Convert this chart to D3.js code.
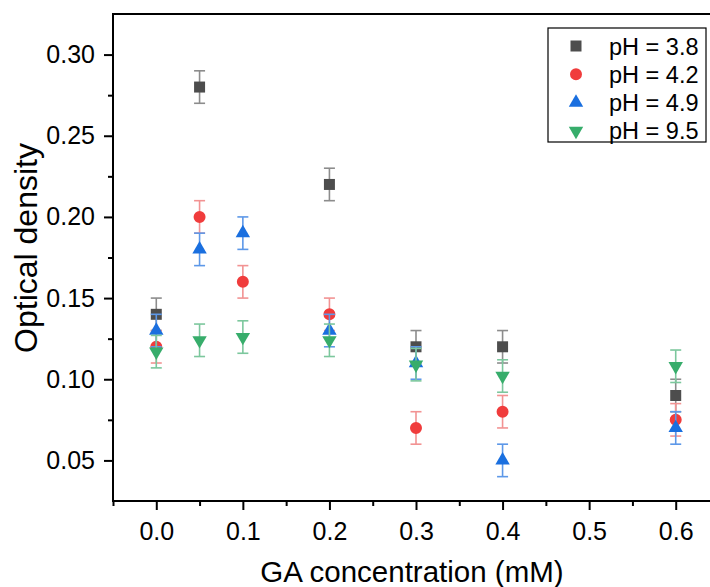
<!DOCTYPE html>
<html lang="en">
<head>
<meta charset="UTF-8">
<title>Optical density vs GA concentration</title>
<script src="https://cdn.jsdelivr.net/npm/d3@7"></script>
<style>
  body { margin: 0; background: #fff; }
  svg { display: block; font-family: "Liberation Sans", Arial, sans-serif; }
</style>
</head>
<body>
<script>
// data
var concentrations = [0.0, 0.05, 0.1, 0.2, 0.3, 0.4, 0.6];
var seriesNames = ["pH = 3.8", "pH = 4.2", "pH = 4.9", "pH = 9.5"];
// null = no point at that concentration
var ph38 = [0.14, 0.28, null, 0.22, 0.12, 0.12, 0.09];
var ph42 = [0.12, 0.20, 0.16, 0.14, 0.07, 0.08, 0.075];
var ph49 = [0.13, 0.18, 0.19, 0.13, 0.11, 0.05, 0.07];
var ph95 = [0.117, 0.124, 0.126, 0.124, 0.109, 0.102, 0.108];
var err38 = [0.01, 0.01, null, 0.01, 0.01, 0.01, 0.01];
var err42 = [0.01, 0.01, 0.01, 0.01, 0.01, 0.01, 0.01];
var err49 = [0.01, 0.01, 0.01, 0.01, 0.01, 0.01, 0.01];
var err95 = [0.01, 0.01, 0.01, 0.01, 0.01, 0.01, 0.01];
var xTicks = [0.0, 0.1, 0.2, 0.3, 0.4, 0.5, 0.6];
var yTicks = [0.05, 0.10, 0.15, 0.20, 0.25, 0.30];

var w = 710, h = 587;

var x = d3.scaleLinear().domain([-0.05, 0.65]).range([113, 719]);
var y = d3.scaleLinear().domain([0.025, 0.325]).range([501, 14]);

var svg = d3.select("body").append("svg")
    .attr("width", w)
    .attr("height", h);

// series look
var styles = [
    { fill: "#4d4d4d", bar: "#8c8c8c", shape: d3.symbolSquare, size: 121, rot: 0 },
    { fill: "#f03c3c", bar: "#f29393", shape: d3.symbolCircle, size: 113, rot: 0 },
    { fill: "#1a6fdf", bar: "#5d98e8", shape: d3.symbolTriangle, size: 90, rot: 0 },
    { fill: "#37ad6b", bar: "#7cc79d", shape: d3.symbolTriangle, size: 90, rot: 180 }
];
var allValues = [ph38, ph42, ph49, ph95];
var allErrors = [err38, err42, err49, err95];

// axes
var gx = svg.append("g").attr("transform", "translate(0,501)")
    .call(d3.axisBottom(x).tickValues(xTicks).tickSize(9).tickPadding(12)
        .tickFormat(d3.format(".1f")));
var gxMinor = svg.append("g").attr("transform", "translate(0,501)")
    .call(d3.axisBottom(x).tickValues([-0.05, 0.05, 0.15, 0.25, 0.35, 0.45, 0.55]).tickSize(5).tickFormat(""));
var gy = svg.append("g").attr("transform", "translate(113,0)")
    .call(d3.axisLeft(y).tickValues(yTicks).tickSize(9).tickPadding(9)
        .tickFormat(d3.format(".2f")));
var gyMinor = svg.append("g").attr("transform", "translate(113,0)")
    .call(d3.axisLeft(y).tickValues([0.075, 0.125, 0.175, 0.225, 0.275]).tickSize(5).tickFormat(""));

[gx, gxMinor, gy, gyMinor].forEach(function(g) {
    g.select(".domain").remove();
    g.selectAll("line").attr("stroke", "#000").attr("stroke-width", 2);
    g.selectAll("text").attr("font-size", 25).attr("fill", "#000")
        .attr("font-family", "Liberation Sans, Arial, sans-serif");
});

// frame
svg.append("rect")
    .attr("x", 113).attr("y", 14)
    .attr("width", 719 - 113).attr("height", 501 - 14)
    .attr("fill", "none").attr("stroke", "#000").attr("stroke-width", 2);

// series
allValues.forEach(function(vals, s) {
    var st = styles[s];
    var pts = [];
    vals.forEach(function(v, i) {
        if (v !== null) pts.push({ x: concentrations[i], y: v, e: allErrors[s][i] });
    });
    var g = svg.append("g");
    var bars = g.selectAll("g.err").data(pts).enter().append("g").attr("class", "err")
        .attr("stroke", st.bar).attr("stroke-width", 1.6);
    bars.append("line")
        .attr("x1", function(d) { return x(d.x); }).attr("x2", function(d) { return x(d.x); })
        .attr("y1", function(d) { return y(d.y + d.e); }).attr("y2", function(d) { return y(d.y - d.e); });
    bars.append("line")
        .attr("x1", function(d) { return x(d.x) - 5.5; }).attr("x2", function(d) { return x(d.x) + 5.5; })
        .attr("y1", function(d) { return y(d.y + d.e); }).attr("y2", function(d) { return y(d.y + d.e); });
    bars.append("line")
        .attr("x1", function(d) { return x(d.x) - 5.5; }).attr("x2", function(d) { return x(d.x) + 5.5; })
        .attr("y1", function(d) { return y(d.y - d.e); }).attr("y2", function(d) { return y(d.y - d.e); });
    g.selectAll("path.mk").data(pts).enter().append("path").attr("class", "mk")
        .attr("d", d3.symbol().type(st.shape).size(st.size))
        .attr("transform", function(d) {
            return "translate(" + x(d.x) + "," + y(d.y) + ") rotate(" + st.rot + ")";
        })
        .attr("fill", st.fill);
});

// legend
var legend = svg.append("g");
legend.append("rect")
    .attr("x", 548).attr("y", 28).attr("width", 158).attr("height", 114)
    .attr("fill", "#fff").attr("stroke", "#000").attr("stroke-width", 1.2);
seriesNames.forEach(function(name, i) {
    var st = styles[i];
    var cy = 46 + i * 28.3;
    legend.append("path")
        .attr("d", d3.symbol().type(st.shape).size(st.size))
        .attr("transform", "translate(576," + cy + ") rotate(" + st.rot + ")")
        .attr("fill", st.fill);
    legend.append("text")
        .attr("x", 609).attr("y", cy + 8.5)
        .attr("font-size", 23.5)
        .text(name);
});

// axis titles
svg.append("text")
    .attr("x", 412).attr("y", 582)
    .attr("text-anchor", "middle")
    .attr("font-size", 29.5)
    .text("GA concentration (mM)");
svg.append("text")
    .attr("transform", "translate(37,248) rotate(-90)")
    .attr("text-anchor", "middle")
    .attr("font-size", 32)
    .text("Optical density");
</script>
</body>
</html>
